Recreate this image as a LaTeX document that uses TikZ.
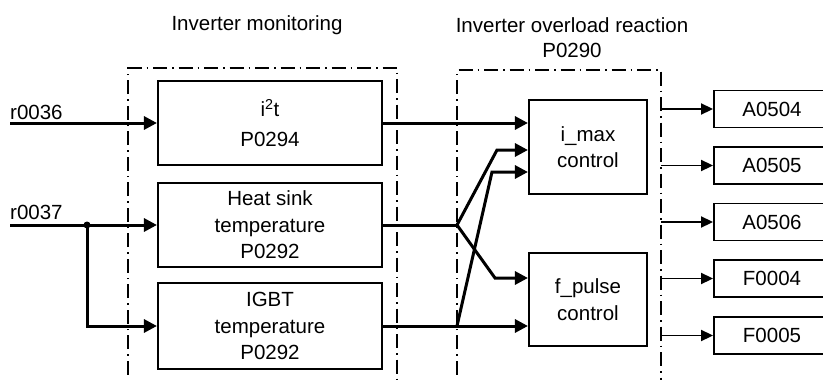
\documentclass[tikz,border=0pt]{standalone}
\usepackage{fontspec}
\setmainfont{Liberation Sans}
\usetikzlibrary{arrows.meta}
\begin{document}
\begin{tikzpicture}[x=1pt,y=-1pt,
  txt/.style={font=\fontsize{20.5}{26.5}\selectfont, align=center, inner sep=0pt},
  blk/.style={draw, line width=2.1pt, txt},
  obox/.style={draw, line width=1.9pt, txt, minimum width=116pt, minimum height=37pt},
  frame/.style={line width=1.7pt, dash pattern=on 14pt off 5pt on 1.5pt off 5pt},
  bus/.style={line width=3pt, -{Triangle[length=13pt,width=13pt]}},
  busl/.style={line width=3pt},
  outa/.style={line width=1.9pt, -{Triangle[length=12pt,width=11pt]}}]
\useasboundingbox (0,0) rectangle (823,380);
\clip (0,0) rectangle (823,380);
% titles
\node[txt] (t1) at (257,25) {Inverter monitoring};
\node[txt] (t2) at (572,25) {Inverter overload reaction};
\node[txt] (t3) at (572,50) {P0290};
% frames
\draw[frame] (128,400) -- (128,68) -- (397,68) -- (397,400);
\draw[frame] (457,400) -- (457,70) -- (661,70) -- (661,400);
% monitoring blocks
\node[blk, minimum width=224pt, minimum height=84pt] (i2t) at (270,123) {i\textsuperscript{2}t\\[3pt]P0294};
\node[blk, minimum width=224pt, minimum height=84pt] (heat) at (270,225) {Heat sink\\temperature\\P0292};
\node[blk, minimum width=224pt, minimum height=86pt] (igbt) at (270,326) {IGBT\\temperature\\P0292};
% reaction blocks
\node[blk, minimum width=118pt, minimum height=94pt] (imax) at (588,147) {i\_max\\control};
\node[blk, minimum width=118pt, minimum height=93pt] (fpulse) at (588,299.5) {f\_pulse\\control};
% outputs
\node[obox] (a504) at (772,109) {A0504};
\node[obox] (a505) at (772,165.5) {A0505};
\node[obox] (a506) at (772,222) {A0506};
\node[obox] (f004) at (772,278.5) {F0004};
\node[obox] (f005) at (772,335.5) {F0005};
% inputs
\node[txt, anchor=west] (l36) at (10,112) {r0036};
\node[txt, anchor=west] (l37) at (10,212) {r0037};
\coordinate (in36) at (10,123);
\coordinate (in37) at (10,225);
\coordinate (j37) at (87,225);
\draw[bus] (in36) -- (in36 -| i2t.west);
\draw[bus] (in37) -- (in37 -| heat.west);
\draw[bus] (j37) |- (igbt.west);
\fill (j37) circle (3.5pt);
% monitoring -> reaction
\draw[bus] (i2t.east) -- (i2t.east -| imax.west);
\coordinate (hb) at (457,225);
\coordinate (ib) at (457,326);
\coordinate (h1) at (497,150);
\coordinate (h2) at (495,278);
\coordinate (g1) at (492,172);
\draw[busl] (heat.east) -- (hb);
\draw[busl] (igbt.east) -- (ib);
\draw[bus] (hb) -- (h1) -- (h1 -| imax.west);
\draw[bus] (hb) -- (h2) -- (h2 -| fpulse.west);
\draw[bus] (ib) -- (g1) -- (g1 -| imax.west);
\draw[bus] (ib) -- (ib -| fpulse.west);
% outputs arrows
\foreach \n in {a504,a505,a506,f004,f005}
  \draw[outa] (\n.west -| 661,0) -- (\n.west);
\end{tikzpicture}
\end{document}
